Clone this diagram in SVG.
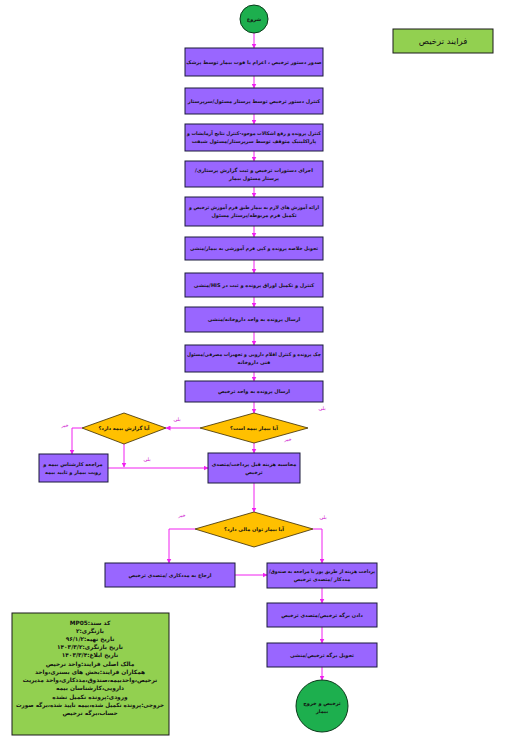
<svg xmlns="http://www.w3.org/2000/svg" width="517" height="745" viewBox="0 0 517 745">
<style>
.box{fill:#9966FF;stroke:#1a1a3a;stroke-width:1}
.dia{fill:#FFC000;stroke:#3a2a00;stroke-width:0.8}
.circ{fill:#1DAF4E;stroke:#0a3a1a;stroke-width:1}
.t{font-family:"DejaVu Sans",sans-serif;font-size:5px;font-weight:bold;fill:#111;text-anchor:middle;direction:rtl}
.i{font-family:"DejaVu Sans",sans-serif;font-size:5.8px;font-weight:bold;fill:#111;text-anchor:middle;direction:rtl}
.lbl{font-family:"DejaVu Sans",sans-serif;font-size:5px;fill:#CC00CC;text-anchor:middle;direction:rtl}
.c{fill:none;stroke:#F020F0;stroke-width:1}
</style>
<defs>
<marker id="ah" viewBox="0 0 10 10" refX="9" refY="5" markerWidth="5" markerHeight="5" orient="auto" markerUnits="userSpaceOnUse">
<path d="M0,0 L10,5 L0,10 z" fill="#F020F0"/>
</marker>
</defs>
<rect width="517" height="745" fill="#fff"/>

<g id="connectors">
<path class="c" d="M254,33 V48" marker-end="url(#ah)"/>
<path class="c" d="M254,76 V88" marker-end="url(#ah)"/>
<path class="c" d="M254,114 V124" marker-end="url(#ah)"/>
<path class="c" d="M254,151 V161" marker-end="url(#ah)"/>
<path class="c" d="M254,187 V197" marker-end="url(#ah)"/>
<path class="c" d="M254,226 V237" marker-end="url(#ah)"/>
<path class="c" d="M254,260 V273" marker-end="url(#ah)"/>
<path class="c" d="M254,297 V307" marker-end="url(#ah)"/>
<path class="c" d="M254,332 V345" marker-end="url(#ah)"/>
<path class="c" d="M254,372 V381" marker-end="url(#ah)"/>
<path class="c" d="M254,402 V413" marker-end="url(#ah)"/>
<path class="c" d="M200,428 H166" marker-end="url(#ah)"/>
<path class="c" d="M82,428 H72 V454" marker-end="url(#ah)"/>
<path class="c" d="M124,444 V467" marker-end="url(#ah)"/>
<path class="c" d="M108,468 H208" marker-end="url(#ah)"/>
<path class="c" d="M254,443 V453" marker-end="url(#ah)"/>
<path class="c" d="M254,483 V512" marker-end="url(#ah)"/>
<path class="c" d="M195,529 H169 V563" marker-end="url(#ah)"/>
<path class="c" d="M313,529 H322 V563" marker-end="url(#ah)"/>
<path class="c" d="M235,575 H267" marker-end="url(#ah)"/>
<path class="c" d="M322,588 V603" marker-end="url(#ah)"/>
<path class="c" d="M322,627 V643" marker-end="url(#ah)"/>
<path class="c" d="M322,667 V680" marker-end="url(#ah)"/>
<text class="lbl" x="177" y="421">بلی</text>
<text class="lbl" x="65" y="427">خیر</text>
<text class="lbl" x="147" y="461">بلی</text>
<text class="lbl" x="288" y="441">خیر</text>
<text class="lbl" x="322" y="410">بلی</text>
<text class="lbl" x="182" y="517">خیر</text>
<text class="lbl" x="323" y="519">بلی</text>
</g>

<g id="title">
<rect x="393" y="29" width="100" height="24" fill="#92D050" stroke="#1a1a1a" stroke-width="1"/>
<text x="443" y="44" font-family="DejaVu Sans, sans-serif" font-size="8.5" text-anchor="middle" fill="#111">فرایند ترخیص</text>
</g>

<g id="start">
<circle class="circ" cx="254" cy="19" r="14"/>
<text class="t" x="254" y="21">شروع</text>
</g>

<g id="n1"><rect class="box" x="185" y="48" width="138" height="28"/>
<text class="t" x="254" y="64">صدور دستور ترخیص ، اعزام یا فوت بیمار توسط پزشک</text></g>

<g id="n2"><rect class="box" x="185" y="88" width="138" height="26"/>
<text class="t" x="254" y="103">کنترل دستور ترخیص توسط پرستار مسئول/سرپرستار</text></g>

<g id="n3"><rect class="box" x="185" y="124" width="138" height="27"/>
<text class="t" x="254" y="135" textLength="134" lengthAdjust="spacingAndGlyphs">کنترل پرونده و رفع اشکالات موجود-کنترل نتایج آزمایشات و</text>
<text class="t" x="254" y="143">پاراکلینیک متوقف توسط سرپرستار/مسئول شیفت</text></g>

<g id="n4"><rect class="box" x="185" y="161" width="138" height="26"/>
<text class="t" x="254" y="172">اجرای دستورات ترخیص و ثبت گزارش پرستاری/</text>
<text class="t" x="254" y="180">پرستار مسئول بیمار</text></g>

<g id="n5"><rect class="box" x="185" y="197" width="138" height="29"/>
<text class="t" x="254" y="209" textLength="130" lengthAdjust="spacingAndGlyphs">ارائه آموزش های لازم به بیمار طبق فرم آموزش ترخیص و</text>
<text class="t" x="254" y="217">تکمیل فرم مربوطه/پرستار مسئول</text></g>

<g id="n6"><rect class="box" x="185" y="237" width="138" height="23"/>
<text class="t" x="254" y="250" textLength="128" lengthAdjust="spacingAndGlyphs">تحویل خلاصه پرونده و کپی فرم آموزشی به بیمار/منشی</text></g>

<g id="n7"><rect class="box" x="185" y="273" width="138" height="24"/>
<text class="t" x="254" y="287">کنترل و تکمیل اوراق پرونده و ثبت در HIS/منشی</text></g>

<g id="n8"><rect class="box" x="185" y="307" width="138" height="25"/>
<text class="t" x="254" y="321">ارسال پرونده به واحد داروخانه/منشی</text></g>

<g id="n9"><rect class="box" x="185" y="345" width="138" height="27"/>
<text class="t" x="254" y="356" textLength="134" lengthAdjust="spacingAndGlyphs">چک پرونده و کنترل اقلام دارویی و تجهیزات مصرفی/مسئول</text>
<text class="t" x="254" y="364">فنی داروخانه</text></g>

<g id="n10"><rect class="box" x="185" y="381" width="138" height="21"/>
<text class="t" x="254" y="393">ارسال پرونده به واحد ترخیص</text></g>

<g id="d1"><polygon class="dia" points="254,413 308,428 254,443 200,428"/>
<text class="t" x="254" y="430">آیا بیمار بیمه است؟</text></g>

<g id="d2"><polygon class="dia" points="124,413 166,428 124,444 82,428"/>
<text class="t" x="124" y="430">آیا گزارش بیمه دارد؟</text></g>

<g id="n11"><rect class="box" x="39" y="454" width="69" height="28"/>
<text class="t" x="73" y="466">مراجعه کارشناس بیمه و</text>
<text class="t" x="73" y="474">رویت بیمار و تایید بیمه</text></g>

<g id="n12"><rect class="box" x="208" y="453" width="92" height="30"/>
<text class="t" x="254" y="466">محاسبه هزینه قبل پرداخت/متصدی</text>
<text class="t" x="254" y="474">ترخیص</text></g>

<g id="d3"><polygon class="dia" points="254,512 313,529 254,547 195,529"/>
<text class="t" x="254" y="531">آیا بیمار توان مالی دارد؟</text></g>

<g id="n13"><rect class="box" x="105" y="563" width="130" height="24"/>
<text class="t" x="170" y="577">ارجاع به مددکاری /متصدی ترخیص</text></g>

<g id="n14"><rect class="box" x="267" y="563" width="110" height="25"/>
<text class="t" x="322" y="573" textLength="106" lengthAdjust="spacingAndGlyphs">پرداخت هزینه از طریق پوز یا مراجعه به صندوق/</text>
<text class="t" x="322" y="581">مددکار /متصدی ترخیص</text></g>

<g id="n15"><rect class="box" x="267" y="603" width="110" height="24"/>
<text class="t" x="322" y="617">دادن برگه ترخیص/متصدی ترخیص</text></g>

<g id="n16"><rect class="box" x="267" y="643" width="110" height="24"/>
<text class="t" x="322" y="657">تحویل برگه ترخیص/منشی</text></g>

<g id="end">
<circle class="circ" cx="322" cy="706" r="26"/>
<text class="t" x="322" y="705">ترخیص و خروج</text>
<text class="t" x="322" y="713">بیمار</text>
</g>

<g id="info">
<rect x="12" y="613" width="157" height="122" fill="#92D050" stroke="#1a1a1a" stroke-width="1"/>
<text class="i" x="90" y="625">کد سند:MP05</text>
<text class="i" x="90" y="633">بازنگری:۲</text>
<text class="i" x="90" y="641">تاریخ تهیه:۹۶/۱/۲</text>
<text class="i" x="90" y="649">تاریخ بازنگری:۱۴۰۳/۳/۲</text>
<text class="i" x="90" y="657">تاریخ ابلاغ:۱۴۰۳/۳/۴</text>
<text class="i" x="90" y="666">مالک اصلی فرایند:واحد ترخیص</text>
<text class="i" x="90" y="674">همکاران فرایند:بخش های بستری،واحد</text>
<text class="i" x="90" y="682">ترخیص،واحدبیمه،صندوق،مددکاری،واحد مدیریت</text>
<text class="i" x="90" y="690">دارویی،کارشناسان بیمه</text>
<text class="i" x="90" y="699">ورودی:پرونده تکمیل نشده</text>
<text class="i" x="90" y="707" textLength="148" lengthAdjust="spacingAndGlyphs">خروجی:پرونده تکمیل شده،بیمه تایید شده،برگه صورت</text>
<text class="i" x="90" y="715">حساب،برگه ترخیص</text>
</g>
</svg>
